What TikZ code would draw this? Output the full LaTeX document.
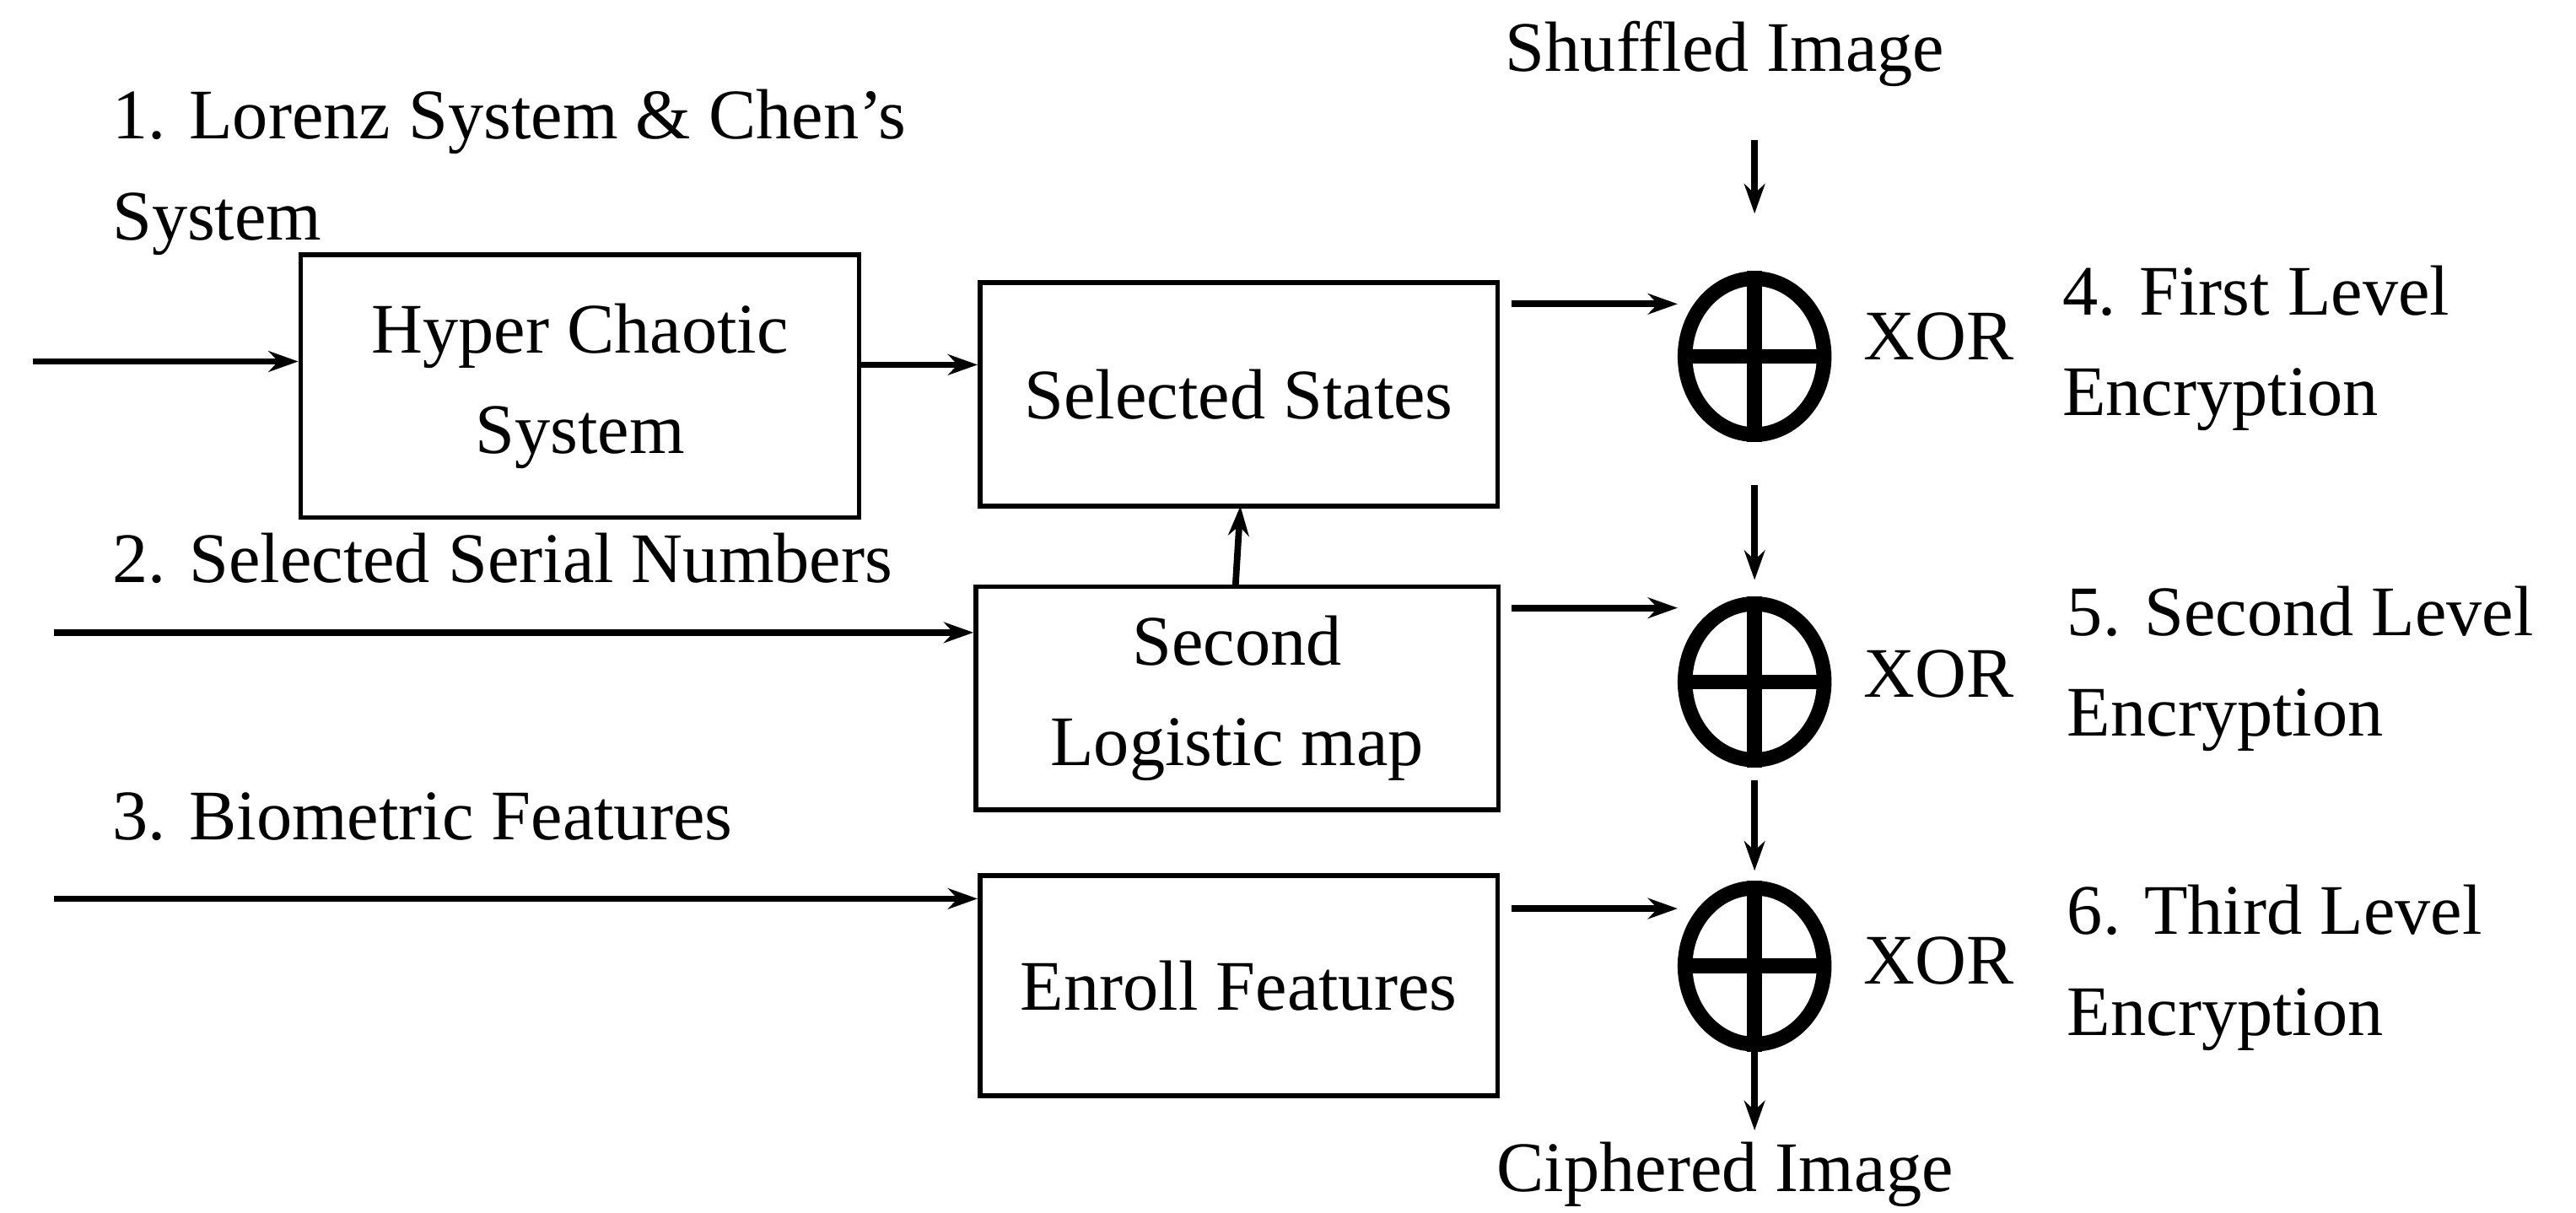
\documentclass[tikz,border=0pt]{standalone}
\usepackage{fontspec}
\setmainfont{Liberation Serif}
\usetikzlibrary{arrows.meta,shapes.geometric}
\begin{document}
\begin{tikzpicture}[x=0.01948cm,y=-0.01948cm,
  box/.style={draw,line width=1.6pt,inner sep=0pt,align=center,font=\fontsize{24}{34}\selectfont},
  lbl/.style={inner sep=0pt,font=\fontsize{24}{34}\selectfont,align=left},
  arr/.style={-{Stealth[length=10pt,width=7pt]},line width=2.2pt},
  xo/.style={draw,ellipse,line width=5pt,minimum width=1.65cm,minimum height=1.85cm,inner sep=0pt}]
\useasboundingbox (0,0) rectangle (1568,738);
\node[box,minimum width=340*0.01948cm,minimum height=160*0.01948cm] (hc) at (353,235) {Hyper Chaotic\\System};
\node[box,minimum width=315*0.01948cm,minimum height=136*0.01948cm] (ss) at (754,240) {Selected States};
\node[box,minimum width=318*0.01948cm,minimum height=136*0.01948cm] (lm) at (753,425) {Second\\Logistic map};
\node[box,minimum width=315*0.01948cm,minimum height=134*0.01948cm] (ef) at (754,600) {Enroll Features};
\foreach \n/\y in {c1/217,c2/415,c3/588}{
  \node[xo] (\n) at (1068,\y) {};
  \draw[line width=5pt] (\n.north) -- (\n.south) (\n.west) -- (\n.east);
}
\node[lbl] at (1180,205) {XOR};
\node[lbl] at (1180,410) {XOR};
\node[lbl] at (1180,585) {XOR};
\node[lbl,anchor=west] at (1255,212) {4. First Level\\Encryption};
\node[lbl,anchor=west] at (1258,407) {5. Second Level\\Encryption};
\node[lbl,anchor=west] at (1258,589) {6. Third Level\\Encryption};
\node[lbl] (si) at (1050,33) {Shuffled Image};
\node[lbl] (ci) at (1050,715) {Ciphered Image};
\node[lbl,anchor=west] at (68,105) {1. Lorenz System \& Chen’s\\System};
\node[lbl,anchor=west] at (68,340) {2. Selected Serial Numbers};
\node[lbl,anchor=west] at (68,497) {3. Biometric Features};
\coordinate (s1) at (20,220);
\coordinate (s2) at (33,385);
\coordinate (s3) at (33,547);
\coordinate (t0) at (1068,85);
\coordinate (b0) at (1068,688);
\draw[arr] (s1) -- (hc.west|-s1);
\draw[arr] (s2) -- (lm.west|-s2);
\draw[arr] (s3) -- (ef.west|-s3);
\draw[arr] (hc.east|-0,222) -- (ss.west|-0,222);
\draw[arr] (752,357) -- (755,308);
\draw[arr] (920,185) -- (c1.west|-0,185);
\draw[arr] (920,370) -- (c2.west|-0,370);
\draw[arr] (920,553) -- (c3.west|-0,553);
\draw[arr] (t0) -- (1068,130);
\draw[arr] (1068,295) -- (1068,353);
\draw[arr] (1068,475) -- (1068,530);
\draw[arr] (c3.south) -- (b0);
\end{tikzpicture}
\end{document}
